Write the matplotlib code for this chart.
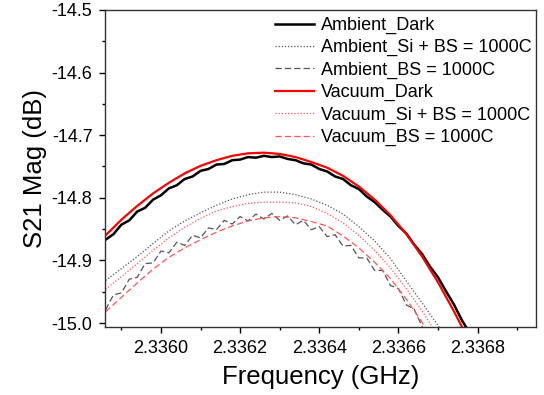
import numpy as np
import matplotlib
matplotlib.use("Agg")
import matplotlib.pyplot as plt
from matplotlib.ticker import FormatStrFormatter, MultipleLocator

plt.rcParams['font.family'] = ['Liberation Sans', 'DejaVu Sans']
plt.rcParams['axes.unicode_minus'] = False

# coarse frequency grid (GHz) for the smooth curves
freq_coarse = [2.33586 + 0.00004 * j for j in range(24)]
# finer grid for the noisy measured curves
freq_fine = [2.33586 + 0.00002 * k for k in range(47)]

vacuum_dark = [-14.860, -14.835, -14.813, -14.793, -14.776, -14.761, -14.749, -14.740,
               -14.733, -14.729, -14.728, -14.730, -14.735, -14.743, -14.752, -14.765,
               -14.782, -14.803, -14.828, -14.858, -14.894, -14.935, -14.981, -15.030]
vacuum_si = [-14.946, -14.926, -14.905, -14.884, -14.864, -14.847, -14.833, -14.821,
             -14.814, -14.809, -14.807, -14.807, -14.808, -14.814, -14.825, -14.840,
             -14.860, -14.884, -14.912, -14.945, -14.981, -15.020]
vacuum_bs = [-14.982, -14.959, -14.936, -14.914, -14.895, -14.880, -14.867, -14.855,
             -14.845, -14.837, -14.832, -14.830, -14.832, -14.838, -14.845, -14.861,
             -14.880, -14.903, -14.929, -14.962, -14.999, -15.040]
ambient_si = [-14.932, -14.913, -14.894, -14.873, -14.853, -14.837, -14.824, -14.812,
              -14.802, -14.795, -14.791, -14.791, -14.795, -14.802, -14.812, -14.826,
              -14.846, -14.869, -14.897, -14.933, -14.968, -15.004, -15.045]

ambient_dark = [-14.867, -14.858, -14.843, -14.836, -14.822, -14.816, -14.803, -14.796,
                -14.785, -14.780, -14.770, -14.766, -14.757, -14.754, -14.747, -14.746,
                -14.740, -14.739, -14.735, -14.736, -14.733, -14.735, -14.734, -14.738,
                -14.740, -14.745, -14.747, -14.754, -14.758, -14.766, -14.770, -14.780,
                -14.786, -14.798, -14.807, -14.819, -14.830, -14.845, -14.857, -14.875,
                -14.890, -14.910, -14.927, -14.949, -14.970, -14.995, -15.016]
ambient_bs = [-14.979, -14.955, -14.952, -14.930, -14.927, -14.905, -14.904, -14.885,
              -14.888, -14.871, -14.876, -14.860, -14.864, -14.848, -14.851, -14.836,
              -14.842, -14.830, -14.837, -14.826, -14.834, -14.825, -14.836, -14.829,
              -14.843, -14.836, -14.851, -14.846, -14.862, -14.859, -14.877, -14.876,
              -14.896, -14.896, -14.916, -14.916, -14.940, -14.945, -14.971, -14.978,
              -15.006, -15.020]

fig = plt.figure(figsize=(5.44, 3.95), dpi=100)
ax = fig.add_axes([0.193, 0.172, 0.792, 0.803])

ax.plot(freq_fine[:len(ambient_dark)], ambient_dark, color='black', lw=1.8, label='Ambient_Dark')
ax.plot(freq_coarse[:len(ambient_si)], ambient_si, color='#555555', lw=0.9, ls=(0, (1, 1.5)),
        label='Ambient_Si + BS = 1000C')
ax.plot(freq_fine[:len(ambient_bs)], ambient_bs, color='#555555', lw=0.9, ls=(0, (5, 2.5)),
        label='Ambient_BS = 1000C')
ax.plot(freq_coarse[:len(vacuum_dark)], vacuum_dark, color='red', lw=1.6, label='Vacuum_Dark')
ax.plot(freq_coarse[:len(vacuum_si)], vacuum_si, color='#ff5555', lw=0.9, ls=(0, (1, 1.5)),
        label='Vacuum_Si + BS = 1000C')
ax.plot(freq_coarse[:len(vacuum_bs)], vacuum_bs, color='#ff5555', lw=0.9, ls=(0, (5, 2.5)),
        label='Vacuum_BS = 1000C')

ax.set_xlim(2.3358586, 2.3369472)
ax.set_ylim(-15.0064, -14.5)

ax.xaxis.set_major_locator(MultipleLocator(0.0002))
ax.xaxis.set_minor_locator(MultipleLocator(0.0001))
ax.yaxis.set_major_locator(MultipleLocator(0.1))
ax.yaxis.set_minor_locator(MultipleLocator(0.05))
ax.xaxis.set_major_formatter(FormatStrFormatter('%.4f'))
ax.yaxis.set_major_formatter(FormatStrFormatter('%.1f'))

ax.tick_params(which='major', direction='out', length=4, width=1, labelsize=13, pad=5)
ax.tick_params(which='minor', direction='out', length=2.5, width=1)
for s in ax.spines.values():
    s.set_linewidth(1.0)
    s.set_color('#333333')

ax.set_xlabel('Frequency (GHz)', fontsize=18.5, labelpad=6)
ax.set_ylabel('S21 Mag (dB)', fontsize=18.5, labelpad=3)

ax.legend(loc='upper left', bbox_to_anchor=(0.394, 0.978), frameon=False, fontsize=13,
          handlelength=2.15, handletextpad=0.4, labelspacing=0.29,
          borderpad=0.0, borderaxespad=0.0)

fig.savefig('out.png', dpi=100)
